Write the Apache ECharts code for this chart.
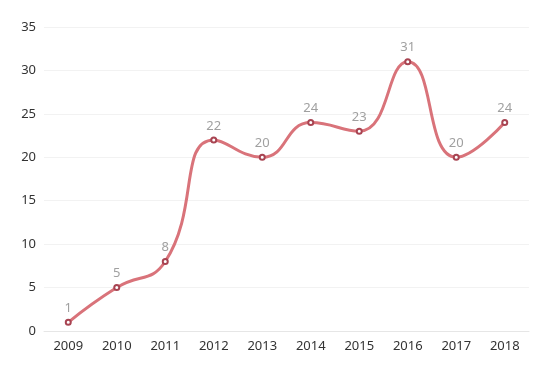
<!DOCTYPE html>
<html><head><meta charset="utf-8">
<script src="https://cdn.jsdelivr.net/npm/echarts@6/dist/echarts.min.js"></script>
<style>html,body{margin:0;padding:0;background:#fff}#c{width:553px;height:369px}</style>
</head><body><div id="c"></div>
<script>
const categories = ['2009','2010','2011','2012','2013','2014','2015','2016','2017','2018'];
const values = [1,5,8,22,20,24,23,31,20,24];
const chart = echarts.init(document.getElementById('c'));
chart.setOption({
  animation:false,
  textStyle:{fontFamily:'Noto Sans'},
  grid:{left:44,right:24,top:27,bottom:38},
  xAxis:{type:'category',data:categories,boundaryGap:true,
    axisLine:{lineStyle:{color:'#e6e6e6'}},axisTick:{show:false},
    axisLabel:{color:'#333',fontSize:13,margin:9}},
  yAxis:{type:'value',min:0,max:35,interval:5,
    axisLine:{show:false},axisTick:{show:false},
    axisLabel:{color:'#333',fontSize:13,margin:8},
    splitLine:{lineStyle:{color:'#f2f2f2'}}},
  series:[{type:'line',data:values,smooth:0.5,
    symbol:'emptyCircle',symbolSize:5,
    lineStyle:{color:'#d9737a',width:3},
    itemStyle:{color:'#a84452',borderWidth:1},
    label:{show:true,position:'top',color:'#a0a0a0',fontSize:13,distance:4}}]
});
</script></body></html>
